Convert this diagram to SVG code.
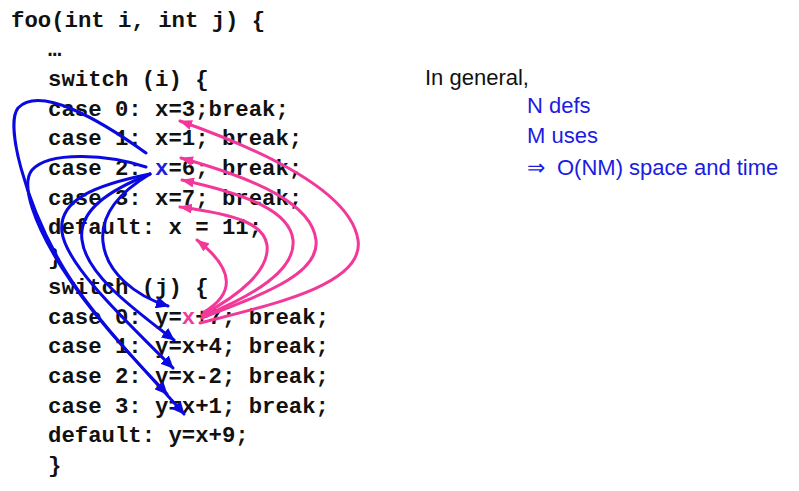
<svg xmlns="http://www.w3.org/2000/svg" width="799" height="491" viewBox="0 0 799 491">
<style>
.code{font-family:"Liberation Mono","Courier New",monospace;font-weight:bold;font-size:22.3px;fill:#111;white-space:pre}
.note{font-family:"Liberation Sans",Arial,sans-serif;font-size:22px}
.blue{fill:#1c1ce0}
.pinkt{fill:#f2399a}
.bl{fill:none;stroke:#0a0ae0;stroke-width:3;stroke-linecap:round}
.pk{fill:none;stroke:#f2399a;stroke-width:3;stroke-linecap:round}
</style>
<defs>
<marker id="ab" markerUnits="userSpaceOnUse" markerWidth="14" markerHeight="12" refX="12" refY="6" orient="auto">
<path d="M0,0 L13,6 L0,12 z" fill="#0a0ae0"/>
</marker>
<marker id="ap" markerUnits="userSpaceOnUse" markerWidth="14" markerHeight="12" refX="12" refY="5" orient="auto">
<path d="M0,0 L13,5 L0,10 z" fill="#f2399a"/>
</marker>
</defs>
<rect width="799" height="491" fill="#fff"/>
<g id="code">
<text class="code" x="11" y="26.5">foo(int i, int j) {</text>
<text class="code" x="48" y="56">…</text>
<text class="code" x="48" y="86">switch (i) {</text>
<g id="def0"><text class="code" x="48" y="115.5">case 0: x=3;break;</text></g>
<g id="def1"><text class="code" x="48" y="145">case 1: x=1; break;</text></g>
<g id="def2"><text class="code" x="48" y="175">case 2: <tspan class="blue">x</tspan>=6; break;</text></g>
<g id="def3"><text class="code" x="48" y="204.5">case 3: x=7; break;</text></g>
<g id="def4"><text class="code" x="48" y="234">default: x = 11;</text></g>
<text class="code" x="48" y="264">}</text>
<text class="code" x="48" y="294">switch (j) {</text>
<g id="use0"><text class="code" x="48" y="323.5">case 0: y=<tspan class="pinkt">x</tspan>+7; break;</text></g>
<g id="use1"><text class="code" x="48" y="353">case 1: y=x+4; break;</text></g>
<g id="use2"><text class="code" x="48" y="383">case 2: y=x-2; break;</text></g>
<g id="use3"><text class="code" x="48" y="412.5">case 3: y=x+1; break;</text></g>
<g id="use4"><text class="code" x="48" y="442">default: y=x+9;</text></g>
<text class="code" x="48" y="472">}</text>
</g>
<g id="note">
<text class="note" x="425" y="85" fill="#111">In general,</text>
<text class="note blue" x="527" y="113">N defs</text>
<text class="note blue" x="527" y="143">M uses</text>
<text class="note blue" x="527" y="175">⇒<tspan x="557">O(NM) space and time</tspan></text>
</g>
<g id="connectors">
<path class="bl" marker-end="url(#ab)" d="M146,153 C100,120 40,85 18,108 C5,125 25,200 60,262 C90,315 150,375 184,414"/>
<path class="bl" marker-end="url(#ab)" d="M146,167 C110,155 50,150 32,170 C20,185 35,225 62,268 C95,320 140,365 167,394"/>
<path class="bl" marker-end="url(#ab)" d="M150,174 C95,185 58,200 62,232 C66,265 125,320 173,368"/>
<path class="bl" marker-end="url(#ab)" d="M150,174 C110,190 78,210 82,240 C86,275 135,310 174,340"/>
<path class="bl" marker-end="url(#ab)" d="M150,174 C120,192 100,215 103,242 C106,272 135,296 168,306"/>
<path class="pk" marker-end="url(#ap)" d="M200,323 C270,305 365,285 358,240 C352,200 290,160 180,121"/>
<path class="pk" marker-end="url(#ap)" d="M202,318 C260,295 320,275 316,240 C312,205 260,180 181,158"/>
<path class="pk" marker-end="url(#ap)" d="M203,316 C255,295 296,270 293,240 C290,212 250,195 182,180"/>
<path class="pk" marker-end="url(#ap)" d="M202,315 C240,295 270,270 267,245 C264,225 240,215 180,207"/>
<path class="pk" marker-end="url(#ap)" d="M204,312 C232,295 238,272 197,240"/>
</g>
</svg>
